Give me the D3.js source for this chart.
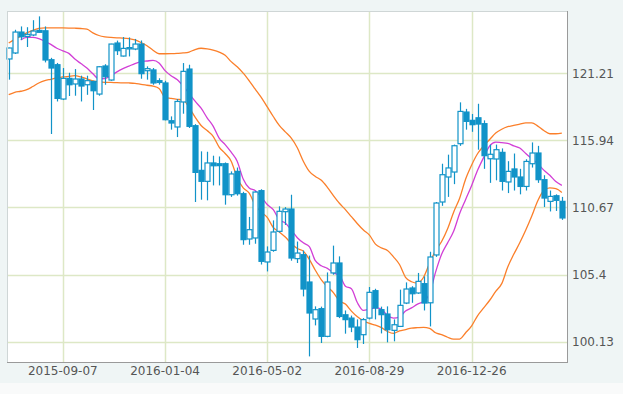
<!DOCTYPE html>
<html>
<head>
<meta charset="utf-8">
<script src="https://cdn.jsdelivr.net/npm/d3@7"></script>
<style>
  body { margin: 0; background: #f9fafa; }
  svg { display: block; font-family: "DejaVu Sans", Verdana, sans-serif; }
</style>
</head>
<body>
<script>
// weekly candles, first week starts 2015-07-06
var firstWeek = "2015-07-06";
var opens  = [122.31,122.78,124.42,124.08,124.19,124.55,124.52,122.25,121.86,119.17,
              120.79,120.35,120.74,120.29,120.55,119.56,121.76,120.66,123.56,122.54,
              123.10,123.09,123.48,121.39,121.45,120.61,120.43,117.47,116.98,118.94,
              121.52,117.08,113.58,112.72,114.16,114.10,114.10,111.67,113.50,111.75,
              108.20,108.28,111.99,106.40,107.31,108.80,110.34,110.55,106.66,106.97,
              104.83,101.93,102.74,100.57,105.54,106.32,102.26,102.00,101.30,100.70,
              102.00,104.15,102.66,102.32,101.04,101.35,103.18,104.36,103.97,104.70,
              103.20,106.95,111.10,113.06,113.45,115.67,118.15,117.50,117.70,117.24,
              114.49,114.47,114.99,112.67,113.69,113.06,112.32,114.10,114.94,112.85,
              111.15,111.59,111.15];
var highs  = [123.20,124.60,124.86,124.80,125.35,125.65,124.86,122.40,122.00,121.60,
              121.23,121.52,121.00,121.00,120.60,121.75,121.90,123.50,123.75,124.03,
              124.00,123.88,123.76,121.73,121.60,120.80,120.60,117.81,119.17,121.99,
              121.86,117.20,115.07,115.04,114.73,114.67,114.20,113.50,113.80,111.90,
              109.93,111.95,112.10,107.62,109.66,110.76,110.70,111.67,108.00,107.30,
              106.90,102.92,102.90,105.58,107.68,106.84,102.60,102.20,101.90,102.00,
              104.44,104.30,102.90,102.92,101.90,104.23,104.80,104.50,105.54,105.27,
              107.20,111.10,114.10,114.81,115.60,118.91,118.40,118.00,118.80,117.50,
              115.60,115.60,115.30,114.30,114.90,113.70,114.45,115.77,115.50,113.20,
              112.00,111.70,111.50];
var lows   = [120.69,122.70,123.80,123.25,124.10,124.37,122.04,116.43,118.98,119.09,
              119.41,119.43,118.98,119.50,118.31,119.43,120.29,120.60,122.62,122.50,
              122.51,123.00,120.76,120.69,120.29,120.30,117.50,116.77,116.19,118.02,
              116.90,111.10,111.28,111.23,112.40,112.40,110.89,111.50,111.60,107.75,
              107.75,107.83,106.20,105.66,107.20,108.70,109.30,106.50,106.32,103.70,
               99.00,101.43,100.05,100.50,105.40,102.00,100.78,100.90, 99.66, 99.97,
              101.90,101.90,100.80,100.10,100.18,101.30,103.10,103.20,103.90,102.60,
              101.35,106.80,110.80,111.50,112.50,115.50,116.77,116.60,115.20,113.70,
              112.60,112.80,112.00,111.80,112.00,111.70,112.00,113.80,112.60,110.71,
              110.36,110.40,109.70];
var closes = [123.17,124.42,124.05,124.24,124.50,124.40,122.23,121.60,119.22,120.79,
              120.29,120.74,120.19,120.61,119.82,121.70,120.92,123.48,122.96,123.14,
              123.20,123.48,121.16,121.55,120.43,120.47,117.55,117.29,118.98,121.34,
              117.03,113.42,112.72,114.16,113.94,113.95,111.67,113.30,111.75,108.15,
              108.93,111.88,106.45,107.18,108.75,110.37,110.55,106.71,107.10,104.28,
              102.40,102.66,100.57,104.83,106.32,102.13,101.88,101.30,100.31,101.88,
              104.02,102.79,102.27,101.09,101.48,103.00,104.28,103.91,104.88,103.18,
              106.79,111.02,113.24,113.77,115.51,118.20,117.42,117.16,117.21,114.73,
              114.84,115.20,112.72,113.50,113.06,112.32,114.28,114.94,112.85,111.41,
              111.54,111.23,109.85];

// bollinger band lines (one value per week)
var upperBand = [123.56,123.85,124.10,124.35,124.55,124.70,124.75,124.75,124.75,124.74,
                 124.73,124.72,124.70,124.65,124.35,124.15,124.05,124.00,123.97,123.95,
                 123.90,123.80,123.60,123.35,123.00,122.72,122.72,122.73,122.75,122.78,
                 122.85,123.05,123.15,123.10,123.00,122.85,122.60,122.10,121.70,121.20,
                 120.60,119.95,119.30,118.55,117.80,117.10,116.60,116.10,115.35,114.30,
                 113.50,113.10,112.80,112.25,111.60,111.00,110.50,109.95,109.40,108.90,
                 108.50,107.80,107.50,107.30,106.80,106.20,105.20,104.85,104.75,105.20,
                 106.30,107.30,108.00,109.00,110.30,111.40,112.90,114.00,114.90,115.50,
                 116.00,116.50,116.80,117.00,117.10,117.20,117.30,117.30,117.05,116.70,
                 116.45,116.45,116.50];
var midBand = [null,null,123.80,124.00,124.00,123.90,123.70,123.45,123.15,122.95,
               122.75,122.30,121.95,121.60,121.15,120.75,120.78,121.00,121.30,121.55,
               121.75,121.95,122.10,122.15,122.20,122.00,121.40,121.00,120.70,120.20,
               119.60,119.00,118.45,117.70,117.05,116.10,115.60,115.00,114.30,112.90,
               112.20,112.00,111.50,110.90,110.50,109.70,109.45,108.90,108.30,107.90,
               107.60,106.50,106.10,105.90,105.55,105.35,104.50,104.30,103.20,102.60,
               102.70,102.80,102.70,102.20,102.00,102.10,102.55,102.80,103.10,103.30,
               103.90,105.60,107.00,107.90,108.80,110.20,111.30,112.40,113.60,114.60,
               115.50,115.80,115.75,115.70,115.50,115.33,114.90,114.50,114.10,113.60,
               113.20,112.70,112.40];
var lowerBand = [119.51,119.70,119.78,119.90,120.15,120.43,120.62,120.72,120.82,120.90,
                 120.95,121.00,120.90,120.75,120.60,120.52,120.48,120.47,120.45,120.44,
                 120.43,120.40,120.32,120.25,120.18,120.00,119.30,119.22,119.15,119.10,
                 118.50,117.75,117.10,116.70,116.25,115.40,114.90,114.30,113.00,112.20,
                 111.80,110.85,110.30,109.90,109.10,108.75,108.35,107.85,107.45,107.25,
                 106.60,105.75,105.00,104.45,104.00,103.35,103.10,102.55,102.10,101.78,
                 101.58,101.45,101.25,100.95,100.80,101.00,101.10,101.22,101.25,101.27,
                 101.20,100.85,100.70,100.50,100.36,100.36,100.85,101.40,102.20,102.80,
                 103.40,104.10,104.70,106.00,107.00,107.90,108.90,110.00,111.20,112.00,
                 112.20,112.15,111.85];

var priceTicks = [100.13, 105.4, 110.67, 115.94, 121.21];
var dateTicks = ["2015-09-07", "2016-01-04", "2016-05-02", "2016-08-29", "2016-12-26"];

var svgWidth = 623, svgHeight = 394;
var plot = {left: 7, top: 11, right: 567, bottom: 362};

var parseDate = d3.timeParse("%Y-%m-%d");
var start = parseDate(firstWeek);
var weeks = closes.map(function(c, i) {
  return {
    date: d3.timeDay.offset(start, 7 * i),
    open: opens[i], high: highs[i], low: lows[i], close: closes[i],
    up: upperBand[i], mid: midBand[i], lo: lowerBand[i]
  };
});

var svg = d3.select("body").append("svg")
  .attr("width", svgWidth)
  .attr("height", svgHeight);

// panel background
svg.append("rect")
  .attr("width", svgWidth).attr("height", 383)
  .attr("fill", "#eff5f5");
svg.append("rect")
  .attr("x", plot.left).attr("y", plot.top)
  .attr("width", plot.right - plot.left).attr("height", plot.bottom - plot.top)
  .attr("fill", "#ffffff");

var x = d3.scaleTime()
  .domain([parseDate("2015-07-04"), parseDate("2017-04-16")])
  .range([plot.left, plot.right]);
var y = d3.scaleLinear()
  .domain([98.56, 126.07])
  .range([plot.bottom, plot.top]);

// grid
svg.append("g").selectAll("line.h")
  .data(priceTicks).enter().append("line")
  .attr("x1", plot.left).attr("x2", plot.right)
  .attr("y1", d => Math.round(y(d)) + 0.5).attr("y2", d => Math.round(y(d)) + 0.5)
  .attr("stroke", "#dde8c6").attr("stroke-width", 1.5);
svg.append("g").selectAll("line.v")
  .data(dateTicks).enter().append("line")
  .attr("x1", d => Math.round(x(parseDate(d))) + 0.5).attr("x2", d => Math.round(x(parseDate(d))) + 0.5)
  .attr("y1", plot.top).attr("y2", plot.bottom)
  .attr("stroke", "#dde8c6").attr("stroke-width", 1.5);

// bands
function bandLine(key) {
  return d3.line()
    .defined(d => d[key] != null)
    .x(d => x(d.date))
    .y(d => y(d[key]))
    .curve(d3.curveMonotoneX);
}
var orange = "#fb7f2a";
svg.append("path").datum(weeks).attr("d", bandLine("up"))
  .attr("fill", "none").attr("stroke", orange).attr("stroke-width", 1.3);
svg.append("path").datum(weeks).attr("d", bandLine("lo"))
  .attr("fill", "none").attr("stroke", orange).attr("stroke-width", 1.3);
svg.append("path").datum(weeks).attr("d", bandLine("mid"))
  .attr("fill", "none").attr("stroke", "#d23fd6").attr("stroke-width", 1.3);

// candles
var blue = "#1193c8";
var bodyW = 5;
var candles = svg.append("g").selectAll("g")
  .data(weeks).enter().append("g");
candles.append("line")
  .attr("x1", d => Math.round(x(d.date)) + 0.5).attr("x2", d => Math.round(x(d.date)) + 0.5)
  .attr("y1", d => y(d.high)).attr("y2", d => y(d.low))
  .attr("stroke", blue).attr("stroke-width", 1.2);
candles.append("rect")
  .attr("x", d => Math.round(x(d.date)) - bodyW / 2 + 0.5)
  .attr("y", d => y(Math.max(d.open, d.close)))
  .attr("width", bodyW)
  .attr("height", d => Math.max(1, Math.abs(y(d.open) - y(d.close))))
  .attr("fill", d => d.close >= d.open ? "#ffffff" : blue)
  .attr("stroke", blue).attr("stroke-width", 1.2);

// frame
svg.append("line").attr("x1", plot.left + 0.5).attr("x2", plot.left + 0.5)
  .attr("y1", plot.top).attr("y2", plot.bottom).attr("stroke", "#cfd6d6");
svg.append("line").attr("x1", plot.left).attr("x2", plot.right)
  .attr("y1", plot.top + 0.5).attr("y2", plot.top + 0.5).attr("stroke", "#cfd6d6");
svg.append("line").attr("x1", plot.right + 0.5).attr("x2", plot.right + 0.5)
  .attr("y1", plot.top).attr("y2", plot.bottom + 1).attr("stroke", "#9a9a9a");
svg.append("line").attr("x1", plot.left).attr("x2", plot.right + 1)
  .attr("y1", plot.bottom + 0.5).attr("y2", plot.bottom + 0.5).attr("stroke", "#9a9a9a");

// labels
svg.append("g").selectAll("text")
  .data(priceTicks).enter().append("text")
  .attr("x", 572).attr("y", d => y(d) + 4.5)
  .attr("font-size", "12px").attr("fill", "#555")
  .text(d => d);
svg.append("g").selectAll("text")
  .data(dateTicks).enter().append("text")
  .attr("x", d => x(parseDate(d))).attr("y", 375)
  .attr("text-anchor", "middle")
  .attr("font-size", "12px").attr("fill", "#555")
  .text(d => d);
</script>
</body>
</html>
